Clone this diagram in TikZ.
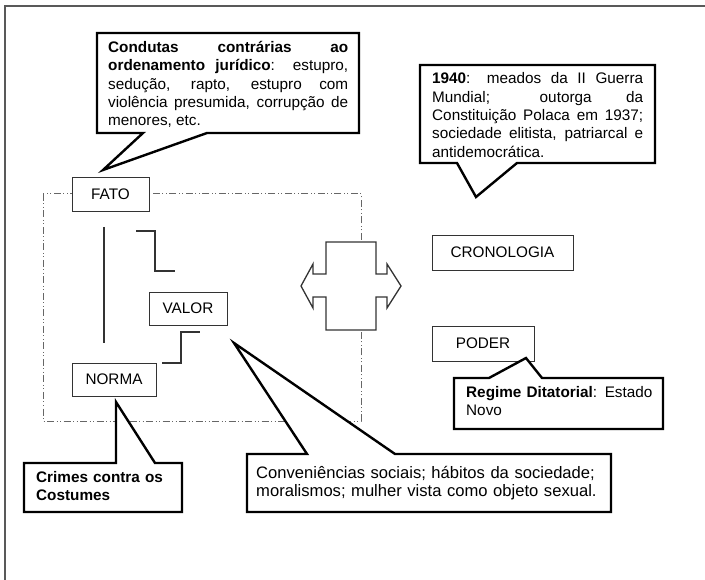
\documentclass[tikz,border=0pt]{standalone}
\usepackage{fontspec}
\setmainfont{Liberation Sans}
\begin{document}
\begin{tikzpicture}[x=1pt,y=-1pt,
  every node/.style={font=\fontsize{15.3}{18.3}\selectfont},
  termbox/.style={draw=black!80, line width=0.9pt, fill=white, inner sep=0pt},
  callout/.style={draw=black, line width=2.4pt, fill=white, line join=miter},
  calltext/.style={anchor=base west, inner sep=0pt, align=justify},
  thinline/.style={draw=black!80, line width=1.3pt},
  dashframe/.style={draw=black!60, line width=1pt, dash pattern=on 7pt off 2.5pt on 1pt off 2.5pt on 1pt off 2.5pt},
  frameline/.style={draw=black!65, line width=2pt}]
\useasboundingbox (0,0) rectangle (705,580);
% outer frame (top and left only)
\draw[frameline] (705,6) -- (5,6) -- (5,580);
% dash-dot frame
\draw[dashframe] (43,194) rectangle (361,421);
% double arrow
\draw[thinline, fill=white, line join=miter]
  (326,242) -- (376,242) -- (376,274) -- (387,274) -- (387,264) -- (401,286)
  -- (387,308) -- (387,297) -- (376,297) -- (376,330) -- (326,330) -- (326,297)
  -- (313,297) -- (313,308) -- (301,286) -- (313,264) -- (313,274) -- (326,274) -- cycle;
% term boxes
\node[termbox, minimum width=77pt, minimum height=34pt] (fato) at (110.5,194) {FATO};
\node[termbox, minimum width=78pt, minimum height=33pt] (valor) at (188,308.5) {VALOR};
\node[termbox, minimum width=84pt, minimum height=33pt] (norma) at (114,379.5) {NORMA};
\node[termbox, minimum width=141pt, minimum height=35pt] (crono) at (502.5,252.5) {CRONOLOGIA};
\node[termbox, minimum width=102pt, minimum height=35pt] (poder) at (483,343.5) {PODER};
% lines between terms
\coordinate (va) at (104,227);
\coordinate (vb) at (104,343);
\draw[thinline] (va) -- (vb);
\coordinate (sa) at (136,231);
\coordinate (sb) at (175,271);
\draw[thinline] (sa) -- (155,231) -- (155,271) -- (sb);
\coordinate (ta) at (162,363);
\coordinate (tb) at (200,332);
\draw[thinline] (ta) -- (181,363) -- (181,332) -- (tb);
% callouts
\draw[callout] (97,33) -- (359,33) -- (359,133) -- (207,133) -- (103,170) -- (143,133) -- (97,133) -- cycle;
\node[calltext, text width=240pt] (c1) at (108,52.5)
  {\textbf{Condutas contrárias ao}\linebreak\textbf{ordenamento jurídico}: estupro,\linebreak sedução, rapto, estupro com\linebreak violência presumida, corrupção de\linebreak menores, etc.};
\draw[callout] (420,65) -- (655,65) -- (655,163) -- (517,163) -- (476,197) -- (457,163) -- (420,163) -- cycle;
\node[calltext, text width=211pt] (c2) at (432,84)
  {\textbf{1940}: meados da II Guerra\linebreak Mundial; outorga da\linebreak Constituição Polaca em 1937;\linebreak sociedade elitista, patriarcal e\linebreak antidemocrática.};
\draw[callout] (454,378) -- (489,378) -- (526,358) -- (542,378) -- (663,378) -- (663,429) -- (454,429) -- cycle;
\node[calltext, text width=190pt, align=left, font=\fontsize{15.3}{19}\selectfont] (c3) at (466,397)
  {\textbf{Regime Ditatorial}: Estado\\Novo};
\draw[callout] (24,463) -- (116,463) -- (116,402) -- (155,463) -- (182,463) -- (182,512) -- (24,512) -- cycle;
\node[calltext, text width=140pt, align=left] (c4) at (36,482)
  {\textbf{Crimes contra os}\\\textbf{Costumes}};
\draw[callout] (247,454) -- (307,454) -- (234,343) -- (395,454) -- (611,454) -- (611,512) -- (247,512) -- cycle;
\node[calltext, text width=350pt, align=left, font=\fontsize{16.6}{18}\selectfont] (c5) at (256,478)
  {Conveniências sociais; hábitos da sociedade;\\moralismos; mulher vista como objeto sexual.};
\end{tikzpicture}
\end{document}
